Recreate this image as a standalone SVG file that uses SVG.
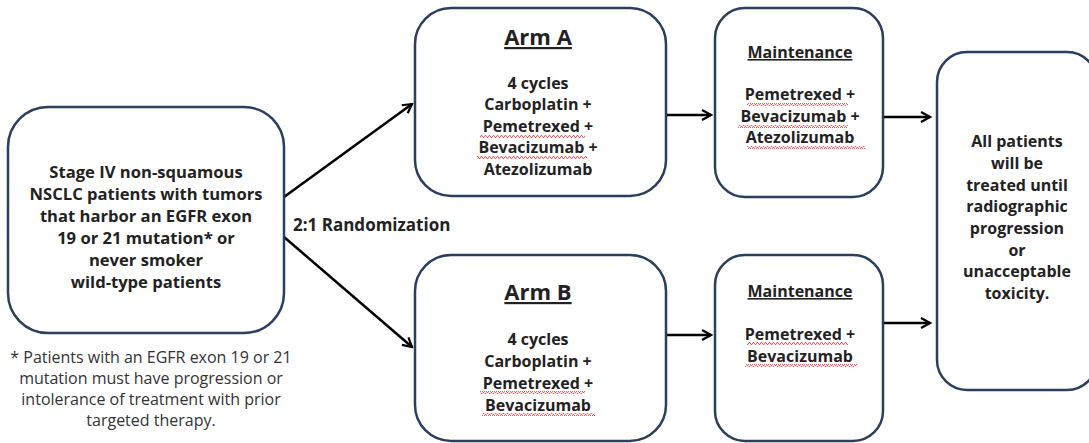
<svg xmlns="http://www.w3.org/2000/svg" width="1089" height="443" viewBox="0 0 1089 443">
<style>
.box{fill:#fff;stroke:#2b3f5c;stroke-width:2.5}
.t{font-family:"Open Sans","Liberation Sans",sans-serif;font-weight:bold;fill:#222;text-anchor:middle}
.m{font-size:16px}
.l{font-size:16.6px}
.h{font-size:22px;text-decoration:underline}
.hs{font-size:16px;text-decoration:underline}
.fn{font-family:"Open Sans","Liberation Sans",sans-serif;font-size:16px;fill:#333;text-anchor:middle}
.c{stroke:#000;stroke-width:2.5;fill:none;marker-end:url(#ah)}
.w{fill:url(#wave)}
</style>
<defs>
<marker id="ah" markerWidth="12" markerHeight="12" refX="10" refY="6" orient="auto" markerUnits="userSpaceOnUse">
<path d="M1,1 L10,6 L1,11" fill="none" stroke="#000" stroke-width="2.2"/>
</marker>
<pattern id="wave" width="4" height="3" patternUnits="userSpaceOnUse">
<path d="M0,2.5 L1,0.5 L2,0.5 L3,2.5 L4,2.5" fill="none" stroke="#e05050" stroke-width="0.9"/>
</pattern>
</defs>
<g id="connectors">
<line class="c" x1="284" y1="197" x2="412" y2="104"/>
<line class="c" x1="284" y1="237" x2="412" y2="347"/>
<line class="c" x1="666" y1="115" x2="711" y2="115"/>
<line class="c" x1="666" y1="335" x2="711" y2="335"/>
<line class="c" x1="884" y1="117" x2="930" y2="117"/>
<line class="c" x1="884" y1="323" x2="930" y2="323"/>
<text class="t" x="293" y="231" style="text-anchor:start;font-size:17px">2:1 Randomization</text>
</g>
<g id="start">
<rect class="box" x="8" y="107" width="276" height="226" rx="40"/>
<text class="t l" x="146" y="178">Stage IV non-squamous</text>
<text class="t l" x="146" y="200">NSCLC patients with tumors</text>
<text class="t l" x="146" y="222">that harbor an EGFR exon</text>
<text class="t l" x="146" y="244">19 or 21 mutation* or</text>
<text class="t l" x="146" y="266">never smoker</text>
<text class="t l" x="146" y="288">wild-type patients</text>
</g>
<g id="footnote">
<text class="fn" x="151" y="363">* Patients with an EGFR exon 19 or 21</text>
<text class="fn" x="151" y="384">mutation must have progression or</text>
<text class="fn" x="151" y="405">intolerance of treatment with prior</text>
<text class="fn" x="151" y="426">targeted therapy.</text>
</g>
<g id="armA">
<rect class="box" x="415" y="8" width="251" height="188" rx="36"/>
<text class="t h" x="538" y="45">Arm A</text>
<text class="t m" x="538" y="89">4 cycles</text>
<text class="t m" x="538" y="110">Carboplatin +</text>
<text class="t m" x="538" y="132">Pemetrexed +</text>
<text class="t m" x="538" y="153">Bevacizumab +</text>
<text class="t m" x="538" y="175">Atezolizumab</text>
<rect class="w" x="480" y="135" width="105" height="3"/>
<rect class="w" x="477" y="156" width="110" height="3"/>
</g>
<g id="armB">
<rect class="box" x="415" y="255" width="251" height="186" rx="36"/>
<text class="t h" x="538" y="300">Arm B</text>
<text class="t m" x="538" y="345">4 cycles</text>
<text class="t m" x="538" y="367">Carboplatin +</text>
<text class="t m" x="538" y="389">Pemetrexed +</text>
<text class="t m" x="538" y="411">Bevacizumab</text>
<rect class="w" x="480" y="391" width="105" height="3"/>
<rect class="w" x="482" y="413" width="113" height="3"/>
</g>
<g id="maintA">
<rect class="box" x="715" y="8" width="168" height="189" rx="30"/>
<text class="t hs" x="800" y="58">Maintenance</text>
<text class="t m" x="800" y="100">Pemetrexed +</text>
<text class="t m" x="800" y="122">Bevacizumab +</text>
<text class="t m" x="800" y="143">Atezolizumab</text>
<rect class="w" x="747" y="103" width="101" height="3"/>
<rect class="w" x="738" y="125" width="110" height="3"/>
<rect class="w" x="747" y="146" width="118" height="3"/>
</g>
<g id="maintB">
<rect class="box" x="715" y="255" width="168" height="186" rx="30"/>
<text class="t hs" x="800" y="297">Maintenance</text>
<text class="t m" x="800" y="340">Pemetrexed +</text>
<text class="t m" x="800" y="362">Bevacizumab</text>
<rect class="w" x="747" y="342" width="101" height="3"/>
<rect class="w" x="745" y="364" width="112" height="3"/>
</g>
<g id="outcome">
<rect class="box" x="937" y="52" width="160" height="338" rx="30"/>
<text class="t m" x="1017" y="147">All patients</text>
<text class="t m" x="1017" y="169">will be</text>
<text class="t m" x="1017" y="191">treated until</text>
<text class="t m" x="1017" y="212">radiographic</text>
<text class="t m" x="1017" y="234">progression</text>
<text class="t m" x="1017" y="256">or</text>
<text class="t m" x="1017" y="277">unacceptable</text>
<text class="t m" x="1017" y="299">toxicity.</text>
</g>
</svg>
